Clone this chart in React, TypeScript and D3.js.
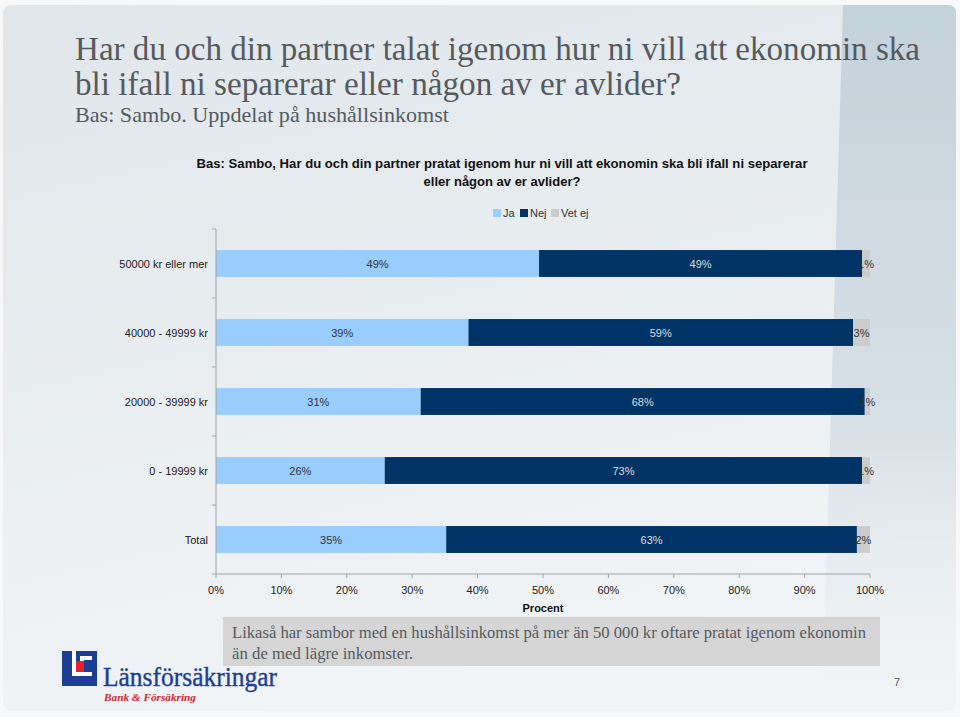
import { useEffect, useRef } from 'react';
import * as d3 from 'd3';

const categories = ['50000 kr eller mer', '40000 - 49999 kr', '20000 - 39999 kr', '0 - 19999 kr', 'Total'];
const seriesNames = ['Ja', 'Nej', 'Vet ej'];
const ja = [49.4, 38.6, 31.3, 25.8, 35.2];
const nej = [49.4, 58.8, 67.9, 73.0, 62.8];
const vetEj = [1.2, 2.6, 0.8, 1.2, 2.0];
const xTicks = [0, 10, 20, 30, 40, 50, 60, 70, 80, 90, 100];

const colors = ['#99ccff', '#003366', '#cccccc'];
const labelColors = ['#333333', '#dddddd', '#333333'];

export default function App() {
  const svgRef = useRef<SVGSVGElement>(null);

  useEffect(() => {
    if (!svgRef.current) return;
    const W = 960, H = 717;
    const svg = d3.select(svgRef.current).attr('width', W).attr('height', H);
    svg.selectAll('*').remove();

    const defs = svg.append('defs');
    const bg = defs.append('linearGradient').attr('id', 'bg')
      .attr('x1', '0').attr('y1', '0').attr('x2', '0.3').attr('y2', '1');
    bg.append('stop').attr('offset', '0%').attr('stop-color', '#e0e6ea');
    bg.append('stop').attr('offset', '100%').attr('stop-color', '#f1f4f6');
    const band = defs.append('linearGradient').attr('id', 'band')
      .attr('x1', '0').attr('y1', '0').attr('x2', '0').attr('y2', '1');
    band.append('stop').attr('offset', '0%').attr('stop-color', '#c4d2db');
    band.append('stop').attr('offset', '60%').attr('stop-color', '#d8e0e7');
    band.append('stop').attr('offset', '100%').attr('stop-color', '#e9eef1').attr('stop-opacity', 0);

    svg.append('rect').attr('width', W).attr('height', H).attr('fill', '#f7f8f9');
    svg.append('rect').attr('x', 3).attr('y', 5).attr('width', 953).attr('height', 706)
      .attr('rx', 8).attr('fill', 'url(#bg)');
    svg.append('path').attr('d', 'M843,5 L948,5 Q956,5 956,13 L956,711 L822,711 Z')
      .attr('fill', 'url(#band)');

    // slide titles
    const serif = 'Liberation Serif';
    svg.append('text').attr('x', 75).attr('y', 60).attr('font-family', serif)
      .attr('font-size', 34).attr('fill', '#555a60')
      .attr('textLength', 845).attr('lengthAdjust', 'spacingAndGlyphs')
      .text('Har du och din partner talat igenom hur ni vill att ekonomin ska');
    svg.append('text').attr('x', 75).attr('y', 95).attr('font-family', serif)
      .attr('font-size', 34).attr('fill', '#555a60')
      .attr('textLength', 606).attr('lengthAdjust', 'spacingAndGlyphs')
      .text('bli ifall ni separerar eller någon av er avlider?');
    svg.append('text').attr('x', 75).attr('y', 122).attr('font-family', serif)
      .attr('font-size', 22).attr('fill', '#555a60')
      .attr('textLength', 374).attr('lengthAdjust', 'spacingAndGlyphs')
      .text('Bas: Sambo. Uppdelat på hushållsinkomst');

    const sans = 'Liberation Sans';
    const chartTitle = svg.append('text').attr('font-family', sans).attr('font-size', 13)
      .attr('font-weight', 'bold').attr('fill', '#111').attr('text-anchor', 'middle');
    chartTitle.append('tspan').attr('x', 502).attr('y', 168)
      .attr('textLength', 611).attr('lengthAdjust', 'spacingAndGlyphs')
      .text('Bas: Sambo, Har du och din partner pratat igenom hur ni vill att ekonomin ska bli ifall ni separerar');
    chartTitle.append('tspan').attr('x', 502).attr('y', 186).text('eller någon av er avlider?');

    // legend
    const legendX = [493, 520, 551];
    seriesNames.forEach((name, i) => {
      svg.append('rect').attr('x', legendX[i]).attr('y', 209).attr('width', 8).attr('height', 8)
        .attr('fill', colors[i]);
      svg.append('text').attr('x', legendX[i] + 10).attr('y', 217).attr('font-family', sans)
        .attr('font-size', 11).attr('fill', '#333').text(name);
    });

    const x = d3.scaleLinear().domain([0, 100]).range([216, 870]);
    const y = d3.scaleBand().domain(categories).range([229, 574]).paddingInner(0.61).paddingOuter(0.305);

    const rows = categories.map((c, i) => ({ cat: c, vals: [ja[i], nej[i], vetEj[i]] }));
    const fmt = d3.format('.0f');

    rows.forEach(r => {
      let acc = 0;
      r.vals.forEach((v, si) => {
        const x0 = x(acc), x1 = x(acc + v);
        acc += v;
        svg.append('rect').attr('x', x0).attr('y', y(r.cat) as number)
          .attr('width', x1 - x0).attr('height', y.bandwidth()).attr('fill', colors[si]);
        svg.append('text').attr('x', (x0 + x1) / 2)
          .attr('y', (y(r.cat) as number) + y.bandwidth() / 2 + 4)
          .attr('text-anchor', 'middle').attr('font-family', sans).attr('font-size', 11)
          .attr('fill', labelColors[si]).text(fmt(v) + '%');
      });
      svg.append('text').attr('x', 208).attr('y', (y(r.cat) as number) + y.bandwidth() / 2 + 4)
        .attr('text-anchor', 'end').attr('font-family', sans).attr('font-size', 11)
        .attr('fill', '#222').text(r.cat);
    });

    // axes
    const axisColor = '#a0a4a8';
    svg.append('line').attr('x1', 216).attr('x2', 216).attr('y1', 229).attr('y2', 574)
      .attr('stroke', axisColor);
    d3.range(categories.length + 1).forEach(k => {
      const yy = 229 + k * y.step();
      svg.append('line').attr('x1', 212).attr('x2', 216).attr('y1', yy).attr('y2', yy)
        .attr('stroke', axisColor);
    });
    svg.append('line').attr('x1', 216).attr('x2', 870).attr('y1', 574).attr('y2', 574)
      .attr('stroke', axisColor);
    xTicks.forEach(t => {
      svg.append('line').attr('x1', x(t)).attr('x2', x(t)).attr('y1', 574).attr('y2', 578)
        .attr('stroke', axisColor);
      svg.append('text').attr('x', x(t)).attr('y', 594).attr('text-anchor', 'middle')
        .attr('font-family', sans).attr('font-size', 11).attr('fill', '#222').text(t + '%');
    });
    svg.append('text').attr('x', x(50)).attr('y', 612).attr('text-anchor', 'middle')
      .attr('font-family', sans).attr('font-size', 11).attr('font-weight', 'bold')
      .attr('fill', '#111').text('Procent');

    // comment box
    svg.append('rect').attr('x', 223).attr('y', 617).attr('width', 657).attr('height', 49)
      .attr('fill', '#d5d5d5');
    svg.append('text').attr('x', 232).attr('y', 638).attr('font-family', serif).attr('font-size', 17)
      .attr('fill', '#555a60').attr('textLength', 634).attr('lengthAdjust', 'spacingAndGlyphs')
      .text('Likaså har sambor med en hushållsinkomst på mer än 50 000 kr oftare pratat igenom ekonomin');
    svg.append('text').attr('x', 232).attr('y', 659).attr('font-family', serif).attr('font-size', 17)
      .attr('fill', '#555a60').attr('textLength', 181).attr('lengthAdjust', 'spacingAndGlyphs')
      .text('än de med lägre inkomster.');

    // logo
    const logo = svg.append('g');
    logo.append('rect').attr('x', 62).attr('y', 651).attr('width', 35).attr('height', 35).attr('fill', '#1c3f94');
    logo.append('path').attr('d', 'M72,651 L76,651 L76,672 L92,672 L92,676 L72,676 Z').attr('fill', '#fff');
    logo.append('path').attr('d', 'M80,656 L92,656 L92,660 L84,660 L84,668 L80,668 Z').attr('fill', '#fff');
    logo.append('rect').attr('x', 76).attr('y', 661).attr('width', 8).attr('height', 11).attr('fill', '#e4202a');
    logo.append('text').attr('x', 103).attr('y', 686).attr('font-family', serif).attr('font-size', 28)
      .attr('fill', '#1c3f94').attr('stroke', '#1c3f94').attr('stroke-width', 0.4)
      .attr('textLength', 174).attr('lengthAdjust', 'spacingAndGlyphs')
      .text('Länsförsäkringar');
    logo.append('text').attr('x', 104).attr('y', 701).attr('font-family', serif).attr('font-size', 11)
      .attr('font-style', 'italic').attr('font-weight', 'bold').attr('fill', '#d0262f')
      .attr('textLength', 92).attr('lengthAdjust', 'spacingAndGlyphs')
      .text('Bank & Försäkring');

    svg.append('text').attr('x', 897).attr('y', 686).attr('text-anchor', 'middle')
      .attr('font-family', sans).attr('font-size', 11).attr('fill', '#555').text('7');
  }, []);

  return (
    <div style={{ position: 'absolute', left: 0, top: 0 }}>
      <svg ref={svgRef}></svg>
    </div>
  );
}
